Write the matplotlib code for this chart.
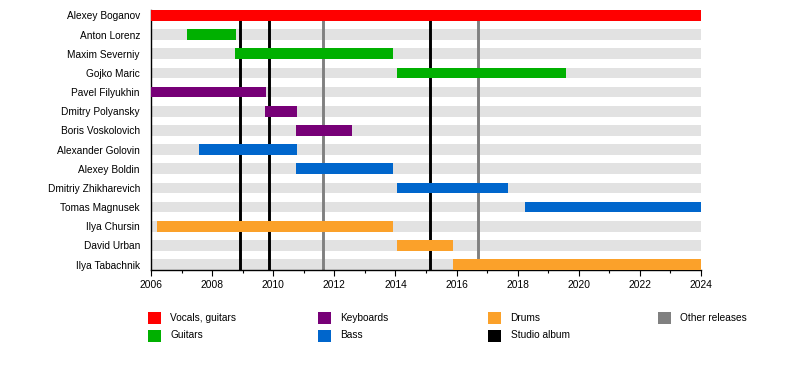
import matplotlib.pyplot as plt
from matplotlib.patches import Rectangle

plt.rcParams['font.family'] = ['Liberation Sans', 'DejaVu Sans']

members = ['Alexey Boganov', 'Anton Lorenz', 'Maxim Severniy', 'Gojko Maric',
           'Pavel Filyukhin', 'Dmitry Polyansky', 'Boris Voskolovich',
           'Alexander Golovin', 'Alexey Boldin', 'Dmitriy Zhikharevich',
           'Tomas Magnusek', 'Ilya Chursin', 'David Urban', 'Ilya Tabachnik']
starts = [2006.0, 2007.18, 2008.75, 2014.05, 2006.0, 2009.73, 2010.75,
          2007.57, 2010.75, 2014.05, 2018.24, 2006.2, 2014.05, 2015.88]
ends = [2024.0, 2008.78, 2013.92, 2019.57, 2009.75, 2010.78, 2012.58,
        2010.78, 2013.92, 2017.68, 2024.0, 2013.92, 2015.88, 2024.0]
roles = ['Vocals, guitars', 'Guitars', 'Guitars', 'Guitars',
         'Keyboards', 'Keyboards', 'Keyboards',
         'Bass', 'Bass', 'Bass', 'Bass',
         'Drums', 'Drums', 'Drums']

studio_albums = [2008.91, 2009.87, 2015.13]
other_releases = [2011.64, 2016.71]

role_colors = {'Vocals, guitars': '#ff0000', 'Guitars': '#00b000',
               'Keyboards': '#770077', 'Bass': '#0066cc', 'Drums': '#fba12a'}

legend_labels = ['Vocals, guitars', 'Guitars', 'Keyboards', 'Bass',
                 'Drums', 'Studio album', 'Other releases']
legend_colors = ['#ff0000', '#00b000', '#770077', '#0066cc',
                 '#fba12a', '#000000', '#808080']

W, H = 800, 390
fig = plt.figure(figsize=(8, 3.9), dpi=100)
ax = fig.add_axes([151 / W, (H - 270) / H, 550 / W, 260 / H])

y = list(range(len(members)))
bh = 0.56
ax.barh(y, [2024 - 2006] * len(members), left=2006, height=bh,
        color='#e2e2e2', zorder=1)
for xv in studio_albums:
    ax.axvline(xv, color='black', lw=2.1, zorder=2)
for xv in other_releases:
    ax.axvline(xv, color='#808080', lw=2.1, zorder=2)
ax.barh(y, [e - s for s, e in zip(starts, ends)], left=starts, height=bh,
        color=[role_colors[r] for r in roles], zorder=3)

ax.set_xlim(2006, 2024)
ax.set_ylim(len(members) - 1 + bh / 2, -bh / 2)
ax.set_yticks(y)
ax.set_yticklabels(members, fontsize=7.3)
ax.tick_params(axis='y', left=False, pad=4.5)
ax.set_xticks(range(2006, 2025, 2))
ax.set_xticks(range(2006, 2025), minor=True)
ax.tick_params(axis='x', labelsize=7.4, length=4, width=0.8, pad=3)
ax.tick_params(axis='x', which='minor', length=2.5, width=0.8)
ax.spines['top'].set_visible(False)
ax.spines['right'].set_visible(False)
ax.spines['left'].set_linewidth(1)
ax.spines['bottom'].set_linewidth(1)

# legend, laid out in columns of two
for i, (lab, col) in enumerate(zip(legend_labels, legend_colors)):
    c, r = divmod(i, 2)
    x0 = 148 + c * 170
    yc = 318 + r * 17.5
    fig.add_artist(Rectangle((x0 / W, (H - yc - 6) / H), 12.5 / W, 12 / H,
                             transform=fig.transFigure, color=col, lw=0))
    fig.text((x0 + 22.5) / W, (H - yc) / H, lab, fontsize=7.3,
             va='center', ha='left')

fig.savefig('out.png', dpi=100)
